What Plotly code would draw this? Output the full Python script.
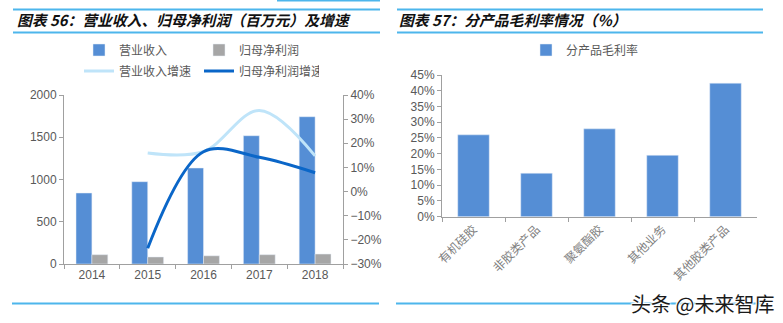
import plotly.graph_objects as go

# ---------------- data ----------------
years = ['2014', '2015', '2016', '2017', '2018']
revenue = [840, 974, 1136, 1518, 1743]          # 营业收入 (百万元)
net_profit = [110, 83, 97, 110, 118]            # 归母净利润 (百万元)
revenue_growth = [None, 16.0, 16.6, 33.6, 14.8]  # 营业收入增速 (%)
profit_growth = [None, -23.5, 16.5, 14.2, 7.8]   # 归母净利润增速 (%)

products = ['有机硅胶', '非胶类产品', '聚氨酯胶', '其他业务', '其他胶类产品']
gross_margin = [26.0, 13.8, 27.9, 19.5, 42.4]    # 分产品毛利率 (%)

# ---------------- style ----------------
W, H = 783, 323
BLUE = '#558ED5'
GRAY_BAR = '#A6A6A6'
LIGHT_LINE = '#BFE4F9'
DARK_LINE = '#0A66C8'
RULE = '#4DB6EC'
AXIS = '#A0A0A0'
TXT = '#595959'
NUM_FONT = 'Liberation Sans Narrow, Liberation Sans, Arial'
CJK = 'Noto Sans CJK SC'


def px(x):
    return x / W


def py(y):
    return 1 - y / H


fig = go.Figure()

fig.add_trace(go.Bar(x=years, y=revenue, name='营业收入', marker_color=BLUE,
                     xaxis='x', yaxis='y', legend='legend'))
fig.add_trace(go.Bar(x=years, y=net_profit, name='归母净利润', marker_color=GRAY_BAR,
                     xaxis='x', yaxis='y', legend='legend'))
fig.add_trace(go.Scatter(x=years, y=revenue_growth, name='营业收入增速', mode='lines',
                         line=dict(color=LIGHT_LINE, width=3, shape='spline', smoothing=1.0),
                         xaxis='x', yaxis='y2', legend='legend2'))
fig.add_trace(go.Scatter(x=years, y=profit_growth, name='归母净利润增速', mode='lines',
                         line=dict(color=DARK_LINE, width=3, shape='spline', smoothing=1.0),
                         xaxis='x', yaxis='y2', legend='legend2'))

fig.add_trace(go.Bar(x=products, y=gross_margin, name='分产品毛利率', marker_color=BLUE,
                     width=0.5, xaxis='x3', yaxis='y3', legend='legend3'))

tickfont_num = dict(family=NUM_FONT, size=12, color=TXT)

shapes = []
for (x0, x1) in [(13, 380), (397, 763)]:
    for yy in (9.5, 32.5):
        shapes.append(dict(type='line', xref='paper', yref='paper',
                           x0=px(x0), x1=px(x1), y0=py(yy), y1=py(yy),
                           line=dict(color=RULE, width=2)))
shapes.append(dict(type='line', xref='paper', yref='paper', x0=px(277), x1=px(380),
                   y0=py(0.5), y1=py(0.5), line=dict(color=RULE, width=2)))
for (x0, x1) in [(12, 379), (396, 763)]:
    shapes.append(dict(type='line', xref='paper', yref='paper',
                       x0=px(x0), x1=px(x1), y0=py(303.5), y1=py(303.5),
                       line=dict(color=RULE, width=2)))

annotations = [
    dict(text='<b><i>图表 56：营业收入、归母净利润（百万元）及增速</i></b>',
         xref='paper', yref='paper', x=px(15), y=py(19), xanchor='left', yanchor='middle',
         showarrow=False, font=dict(family=CJK, size=14.8, color='#111111')),
    dict(text='<b><i>图表 57：分产品毛利率情况（%）</i></b>',
         xref='paper', yref='paper', x=px(397), y=py(19), xanchor='left', yanchor='middle',
         showarrow=False, font=dict(family=CJK, size=14.8, color='#111111')),
    dict(text='头条 @未来智库', xref='paper', yref='paper', x=px(702), y=py(303),
         xanchor='center', yanchor='middle', showarrow=False,
         font=dict(family=CJK, size=20, color='#1a1a1a',
                   shadow='1px 1px 1px white, -1px -1px 1px white, 1px -1px 1px white, -1px 1px 1px white')),
]

legend_font = dict(family=CJK, size=12, color=TXT)

fig.update_layout(
    width=W, height=H,
    margin=dict(l=0, r=0, t=0, b=0, autoexpand=False),
    paper_bgcolor='white', plot_bgcolor='white',
    barmode='group', bargap=0.43, bargroupgap=0,
    showlegend=True,
    shapes=shapes,
    annotations=annotations,
    xaxis=dict(domain=[px(64), px(343)], anchor='y', type='category', automargin=False,
               showline=True, linecolor=AXIS, linewidth=1,
               ticks='outside', tickson='boundaries', ticklen=4, tickcolor=AXIS,
               tickfont=tickfont_num, showgrid=False, zeroline=False),
    yaxis=dict(domain=[py(264), py(95)], range=[0, 2000], tick0=0, dtick=500,
               automargin=False,
               showline=True, linecolor=AXIS, linewidth=1, ticks='outside', ticklen=4,
               tickcolor=AXIS, tickfont=tickfont_num, showgrid=False, zeroline=False),
    yaxis2=dict(overlaying='y', side='right', anchor='x', range=[-30, 40],
                tick0=0, dtick=10, ticksuffix='%', automargin=False,
                showline=True, linecolor=AXIS, linewidth=1, ticks='outside', ticklen=4,
                tickcolor=AXIS, tickfont=tickfont_num, showgrid=False, zeroline=False),
    xaxis3=dict(domain=[px(442), px(757)], anchor='y3', type='category', automargin=False,
                showline=True, linecolor=AXIS, linewidth=1,
                ticks='outside', tickson='boundaries', ticklen=4, tickcolor=AXIS,
                tickangle=-45, tickfont=dict(family=CJK, size=12, color='#7f7f7f'),
                showgrid=False, zeroline=False),
    yaxis3=dict(domain=[py(216.7), py(75)], anchor='x3', range=[0, 45],
                tick0=0, dtick=5, ticksuffix='%', automargin=False,
                showline=True, linecolor=AXIS, linewidth=1, ticks='outside', ticklen=4,
                tickcolor=AXIS, tickfont=tickfont_num, showgrid=False, zeroline=False),
    legend=dict(orientation='h', x=px(79), y=py(50), xanchor='left', yanchor='middle',
                entrywidth=75, entrywidthmode='pixels', font=legend_font,
                bgcolor='rgba(0,0,0,0)', traceorder='normal'),
    legend2=dict(orientation='h', x=px(79), y=py(71), xanchor='left', yanchor='middle',
                 entrywidth=75, entrywidthmode='pixels', font=legend_font,
                 bgcolor='rgba(0,0,0,0)', traceorder='normal'),
    legend3=dict(orientation='h', x=px(526), y=py(50), xanchor='left', yanchor='middle',
                 font=legend_font, bgcolor='rgba(0,0,0,0)'),
)

fig.write_html('out.html')
